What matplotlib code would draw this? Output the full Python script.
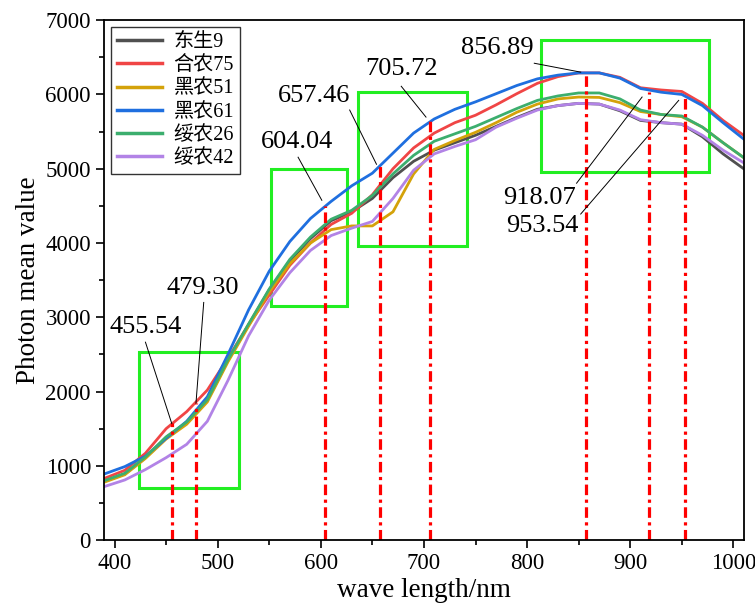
import matplotlib.pyplot as plt
from matplotlib.patches import Rectangle
from matplotlib.ticker import MultipleLocator

plt.rcParams['font.family'] = ['Liberation Serif', 'Noto Sans CJK SC']

# wavelength grid (nm)
wl = [390, 410, 430, 450, 470, 490, 510, 530, 550, 570, 590, 610, 630, 650, 670,
      690, 710, 730, 750, 770, 790, 810, 830, 850, 870, 890, 910, 930, 950, 970, 990, 1010]

dongsheng9 = [790, 890, 1110, 1380, 1580, 1880, 2420, 2900, 3370, 3760, 4060, 4300, 4420, 4600, 4880,
              5100, 5250, 5350, 5450, 5570, 5690, 5800, 5850, 5880, 5870, 5780, 5650, 5620, 5600, 5430, 5200, 5000]
henong75 = [830, 940, 1170, 1500, 1730, 2020, 2450, 2900, 3300, 3700, 4000, 4250, 4400, 4650, 5000,
            5280, 5480, 5620, 5720, 5860, 6010, 6150, 6240, 6290, 6290, 6230, 6090, 6060, 6040, 5880, 5650, 5450]
heinong51 = [780, 880, 1100, 1360, 1560, 1860, 2400, 2880, 3340, 3720, 4000, 4180, 4230, 4230, 4420,
             4930, 5260, 5380, 5490, 5620, 5760, 5870, 5940, 5965, 5960, 5890, 5770, 5730, 5700, 5560, 5350, 5150]
heinong61 = [890, 990, 1130, 1370, 1600, 1930, 2500, 3100, 3620, 4020, 4330, 4560, 4770, 4940, 5210,
             5480, 5670, 5800, 5900, 6010, 6120, 6210, 6260, 6290, 6290, 6220, 6080, 6030, 6000, 5850, 5620, 5400]
suinong26 = [800, 900, 1120, 1390, 1590, 1890, 2430, 2910, 3380, 3780, 4080, 4320, 4440, 4640, 4930,
             5180, 5370, 5470, 5570, 5690, 5810, 5920, 5980, 6020, 6020, 5940, 5790, 5730, 5710, 5560, 5350, 5150]
suinong42 = [720, 810, 950, 1110, 1290, 1600, 2150, 2750, 3230, 3600, 3900, 4100, 4200, 4290, 4600,
             4980, 5200, 5300, 5390, 5560, 5680, 5790, 5850, 5880, 5870, 5790, 5660, 5620, 5600, 5450, 5250, 5080]

series = [dongsheng9, henong75, heinong51, heinong61, suinong26, suinong42]
names = ['东生9', '合农75', '黑农51', '黑农61', '绥农26', '绥农42']
colors = ['#505050', '#f04545', '#d4a20a', '#1f6fdf', '#3cae6e', '#b283e6']

# characteristic wavelengths and the height of their marker lines
peaks = [455.54, 479.30, 604.04, 657.46, 705.72, 856.89, 918.07, 953.54]
peak_tops = [1580, 1840, 4500, 5030, 5640, 6290, 6030, 5980]
peak_labels = ['455.54', '479.30', '604.04', '657.46', '705.72', '856.89', '918.07', '953.54']
# label text centres, leader line start and end points
label_xy = [(430, 2875), (485.5, 3400), (577, 5357), (593, 5976), (678, 6346), (771, 6620), (812.5, 4603), (815, 4233)]
leader_start = [(430, 2665), (486.5, 3200), (578, 5155), (628, 5790), (678, 6110), (807, 6420), (848, 4805), (852, 4390)]
leader_end = [(455.5, 1570), (479, 1845), (601, 4575), (654, 5060), (702, 5695), (852, 6300), (911.5, 5965), (947, 5920)]

# highlighted regions: (x0, x1, y0, y1)
boxes = [(424, 521, 700, 2530), (552, 625, 3150, 4995), (635.6, 742, 3957, 6030), (813.5, 976, 4953, 6730)]

fig = plt.figure(figsize=(7.55, 6.11), dpi=100)
ax = fig.add_axes([0.138, 0.116, 0.847, 0.851])

for y, n, c in zip(series, names, colors):
    ax.plot(wl, y, color=c, lw=2.0, label=n)

for x, top in zip(peaks, peak_tops):
    ax.plot([x, x], [0, top], color='red', lw=2.3, linestyle=(0, (3.3, 1.4, 1.0, 1.4)))

for (x0, x1, y0, y1) in boxes:
    ax.add_patch(Rectangle((x0, y0), x1 - x0, y1 - y0, fill=False, edgecolor='#22ee22', lw=2.2))

for lab, (tx, ty), (sx, sy), (ex, ey) in zip(peak_labels, label_xy, leader_start, leader_end):
    ax.text(tx, ty, lab, fontsize=19, ha='center', va='center')
    ax.plot([sx, ex], [sy, ey], color='black', lw=0.7)

ax.set_xlim(390, 1010)
ax.set_ylim(0, 7000)
ax.xaxis.set_major_locator(MultipleLocator(100))
ax.xaxis.set_minor_locator(MultipleLocator(50))
ax.yaxis.set_major_locator(MultipleLocator(1000))
ax.yaxis.set_minor_locator(MultipleLocator(500))
ax.tick_params(which='both', direction='out', width=1.2, labelsize=16.5)
ax.tick_params(which='major', length=6)
ax.tick_params(which='minor', length=3.5)
for s in ax.spines.values():
    s.set_linewidth(1.3)

ax.set_xlabel('wave length/nm', fontsize=19.5, labelpad=3)
ax.set_ylabel('Photon mean value', fontsize=19.5, labelpad=3)

leg = ax.legend(loc='upper left', fontsize=14.5, frameon=True, fancybox=False, edgecolor='black',
                handlelength=2.2, labelspacing=0.2, borderpad=0.3, borderaxespad=0.35, handletextpad=0.6)
leg.get_frame().set_linewidth(1.0)
for line in leg.get_lines():
    line.set_linewidth(2.5)

plt.savefig('out.png', dpi=100)
